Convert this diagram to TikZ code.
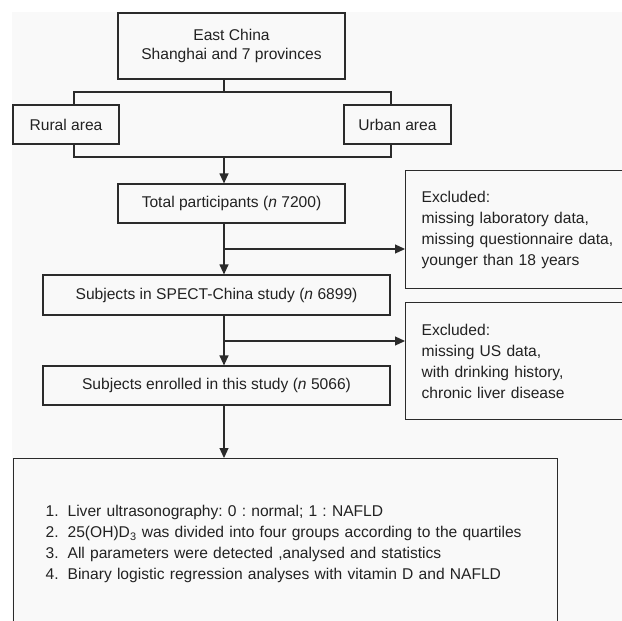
\documentclass[tikz,border=0pt]{standalone}
\usepackage{fontspec}
\setmainfont{Liberation Sans}
\usetikzlibrary{arrows.meta}
\definecolor{linegray}{HTML}{2B2B2B}
\definecolor{textgray}{HTML}{222222}
\definecolor{bggray}{HTML}{F9F9F9}
\frenchspacing

\begin{document}
\begin{tikzpicture}[x=1pt, y=-1pt,
    box/.style={draw=linegray, line width=1.2pt, text=textgray, inner sep=0pt,
        font=\fontsize{15.6}{21}\selectfont, align=center},
    note/.style={box, anchor=north west, align=left, inner xsep=16pt},
    line/.style={draw=linegray, line width=1.2pt},
    arr/.style={-{Triangle[length=10pt,width=9pt]}}]
    % 画面の範囲と背景
    \useasboundingbox (0,0) rectangle (622,621);
    \clip (0,0) rectangle (622,621);
    \fill[white] (0,0) rectangle (622,621);
    \fill[bggray] (12,12) rectangle (622,621);

    % 本流の箱
    \node[box, minimum width=227pt, minimum height=66pt] (top) at (231.5,46)
        {East China\\[-2pt]Shanghai and 7 provinces};
    \node[box, minimum width=106pt, minimum height=39pt] (rural) at (66,124.5) {Rural area};
    \node[box, minimum width=107pt, minimum height=39pt] (urban) at (397.5,124.5) {Urban area};
    \node[box, minimum width=227pt, minimum height=39pt] (total) at (231.5,203.5)
        {Total participants (\textit{n} 7200)};
    \node[box, minimum width=347pt, minimum height=40pt] (spect) at (216.5,295)
        {Subjects in SPECT-China study (\textit{n} 6899)};
    \node[box, minimum width=347pt, minimum height=39pt] (enrolled) at (216.5,385.5)
        {Subjects enrolled in this study (\textit{n} 5066)};

    % 除外の箱（右端は画面の外）
    \node[note, text width=215pt, minimum height=118pt] (excl1) at (405,170)
        {Excluded:\\missing laboratory data,\\missing questionnaire data,\\younger than 18 years};
    \node[note, text width=215pt, minimum height=117pt] (excl2) at (405,302)
        {Excluded:\\missing US data,\\with drinking history,\\chronic liver disease};

    % 最後の箱（下端は画面の外）
    \node[note, inner xsep=32pt, text width=480pt, minimum height=171pt] (final) at (13,458)
        {\makebox[22pt][l]{1.}Liver ultrasonography: 0 : normal; 1 : NAFLD\\
         \makebox[22pt][l]{2.}\mbox{25(OH)D\textsubscript{3} was divided into four groups according to the quartiles}\\
         \makebox[22pt][l]{3.}All parameters were detected ,analysed and statistics\\
         \makebox[22pt][l]{4.}Binary logistic regression analyses with vitamin D and NAFLD};

    % 分岐点
    \coordinate (j)  at (224,92);
    \coordinate (jl) at (74,92);
    \coordinate (jr) at (391,92);
    \coordinate (k)  at (224,157);
    \coordinate (kl) at (74,157);
    \coordinate (kr) at (391,157);
    \coordinate (b1) at (224,249);
    \coordinate (b2) at (224,341);

    % 線と矢印
    \draw[line] (top.south -| j) -- (j);
    \draw[line] (rural.north -| jl) -- (jl) -- (jr) -- (urban.north -| jr);
    \draw[line] (rural.south -| kl) -- (kl) -- (kr) -- (urban.south -| kr);
    \draw[line, arr] (k) -- (total.north -| k);
    \draw[line, arr] (total.south -| k) -- (spect.north -| k);
    \draw[line, arr] (b1) -- (excl1.west |- b1);
    \draw[line, arr] (spect.south -| k) -- (enrolled.north -| k);
    \draw[line, arr] (b2) -- (excl2.west |- b2);
    \draw[line, arr] (enrolled.south -| k) -- (final.north -| k);
\end{tikzpicture}
\end{document}
